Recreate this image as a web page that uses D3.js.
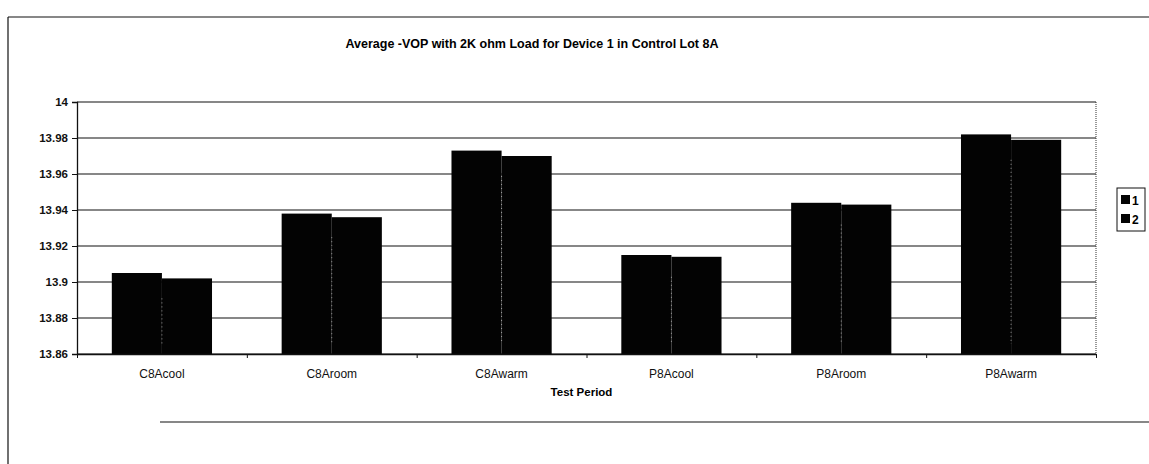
<!DOCTYPE html>
<html>
<head>
<meta charset="utf-8">
<script src="https://cdn.jsdelivr.net/npm/d3@7"></script>
<style>
	body { margin: 0; background: #fff; }
	svg { display: block; font-family: "Liberation Sans", Arial, sans-serif; }
</style>
</head>
<body>
<svg id="chart" width="1149" height="464"></svg>
<script>
	var categories = ["C8Acool", "C8Aroom", "C8Awarm", "P8Acool", "P8Aroom", "P8Awarm"];
	var seriesNames = ["1", "2"];
	var series1 = [13.905, 13.938, 13.973, 13.915, 13.944, 13.982];
	var series2 = [13.902, 13.936, 13.970, 13.914, 13.943, 13.979];
	var yTicks = [13.86, 13.88, 13.9, 13.92, 13.94, 13.96, 13.98, 14];
	var yTickLabels = ["13.86", "13.88", "13.9", "13.92", "13.94", "13.96", "13.98", "14"];

	var title = "Average -VOP with 2K ohm Load for Device 1 in Control Lot 8A",
		xTitle = "Test Period";

	var svg = d3.select("#chart"),
		margin = { left: 77, right: 53, top: 102, bottom: 110 },
		width = 1149 - margin.left - margin.right,
		height = 464 - margin.top - margin.bottom;

	// marco exterior del gráfico (escaneado, sin borde derecho visible)
	var frame = svg.append("g").attr("stroke", "#111").attr("stroke-width", 1.2);
	frame.append("line").attr("x1", 8).attr("x2", 1149).attr("y1", 17).attr("y2", 17);
	frame.append("line").attr("x1", 8).attr("x2", 8).attr("y1", 17).attr("y2", 464);
	frame.append("line").attr("x1", 160).attr("x2", 1149).attr("y1", 422).attr("y2", 422);

	svg.append("text")
		.attr("x", 532)
		.attr("y", 48)
		.attr("text-anchor", "middle")
		.attr("font-size", 12.5)
		.attr("font-weight", "bold")
		.text(title);

	var g = svg.append("g")
		.attr("transform", "translate(" + margin.left + "," + margin.top + ")");

	var x = d3.scaleBand()
		.domain(categories)
		.range([0, width])
		.paddingInner(0.41)
		.paddingOuter(0.205);

	var xInner = d3.scaleBand()
		.domain(seriesNames)
		.range([0, x.bandwidth()]);

	var y = d3.scaleLinear()
		.domain([13.86, 14])
		.range([height, 0]);

	// líneas de rejilla
	g.append("g")
		.selectAll("line")
		.data(yTicks)
		.join("line")
		.attr("x1", 0)
		.attr("x2", width)
		.attr("y1", function(d) { return y(d); })
		.attr("y2", function(d) { return y(d); })
		.attr("stroke", "#111")
		.attr("stroke-width", 1.1);

	g.append("line")
		.attr("x1", width).attr("x2", width)
		.attr("y1", 0).attr("y2", height)
		.attr("stroke", "#333")
		.attr("stroke-dasharray", "1,1");

	var rows = categories.map(function(c, i) {
		return { cat: c, values: [series1[i], series2[i]] };
	});

	var groups = g.append("g")
		.selectAll("g")
		.data(rows)
		.join("g")
		.attr("transform", function(d) { return "translate(" + x(d.cat) + ",0)"; });

	groups.selectAll("rect")
		.data(function(d) {
			return d.values.map(function(v, i) { return { name: seriesNames[i], value: v }; });
		})
		.join("rect")
		.attr("x", function(d) { return xInner(d.name); })
		.attr("width", xInner.bandwidth())
		.attr("y", function(d) { return y(d.value); })
		.attr("height", function(d) { return height - y(d.value); })
		.attr("fill", "#030303");

	// separación moteada entre las dos barras
	groups.append("line")
		.attr("x1", xInner("2")).attr("x2", xInner("2"))
		.attr("y1", function(d) { return y(d3.min(d.values)) + 20; })
		.attr("y2", height - 10)
		.attr("stroke", "#bbb")
		.attr("stroke-width", 0.8)
		.attr("stroke-dasharray", "1,3");

	var yAxis = d3.axisLeft(y)
		.tickValues(yTicks)
		.tickFormat(function(d, i) { return yTickLabels[i]; })
		.tickSize(5)
		.tickPadding(4);

	var yAxisG = g.append("g").call(yAxis);
	yAxisG.select(".domain").attr("stroke", "#111").attr("stroke-width", 1.3);
	yAxisG.selectAll(".tick line").attr("stroke", "#111");
	yAxisG.selectAll(".tick text")
		.attr("font-size", 11.5)
		.attr("font-weight", "bold")
		.attr("font-family", "Liberation Sans, Arial, sans-serif")
		.attr("fill", "#111");

	var xAxis = d3.axisBottom(d3.scalePoint().domain(d3.range(categories.length + 1)).range([0, width]))
		.tickFormat("")
		.tickSize(4)
		.tickSizeOuter(0);

	var xAxisG = g.append("g")
		.attr("transform", "translate(0," + height + ")")
		.call(xAxis);
	xAxisG.select(".domain").attr("stroke", "#111").attr("stroke-width", 1.3);
	xAxisG.selectAll(".tick line").attr("stroke", "#111");

	g.append("g")
		.selectAll("text")
		.data(categories)
		.join("text")
		.attr("x", function(d) { return x(d) + x.bandwidth() / 2; })
		.attr("y", height + 24)
		.attr("text-anchor", "middle")
		.attr("font-size", 12)
		.attr("fill", "#111")
		.text(function(d) { return d; });

	g.append("text")
		.attr("x", width / 2 - 5)
		.attr("y", height + 42)
		.attr("text-anchor", "middle")
		.attr("font-size", 11.5)
		.attr("font-weight", "bold")
		.text(xTitle);

	// leyenda
	var legend = svg.append("g").attr("transform", "translate(1117,188)");
	legend.append("rect")
		.attr("width", 28).attr("height", 43)
		.attr("fill", "#fff").attr("stroke", "#111");

	var items = legend.selectAll("g")
		.data(seriesNames)
		.join("g")
		.attr("transform", function(d, i) { return "translate(4," + (7 + i * 19) + ")"; });

	items.append("rect")
		.attr("width", 9).attr("height", 9)
		.attr("fill", "#030303");

	items.append("text")
		.attr("x", 11).attr("y", 9.5)
		.attr("font-size", 12)
		.attr("font-weight", "bold")
		.text(function(d) { return d; });
</script>
</body>
</html>
